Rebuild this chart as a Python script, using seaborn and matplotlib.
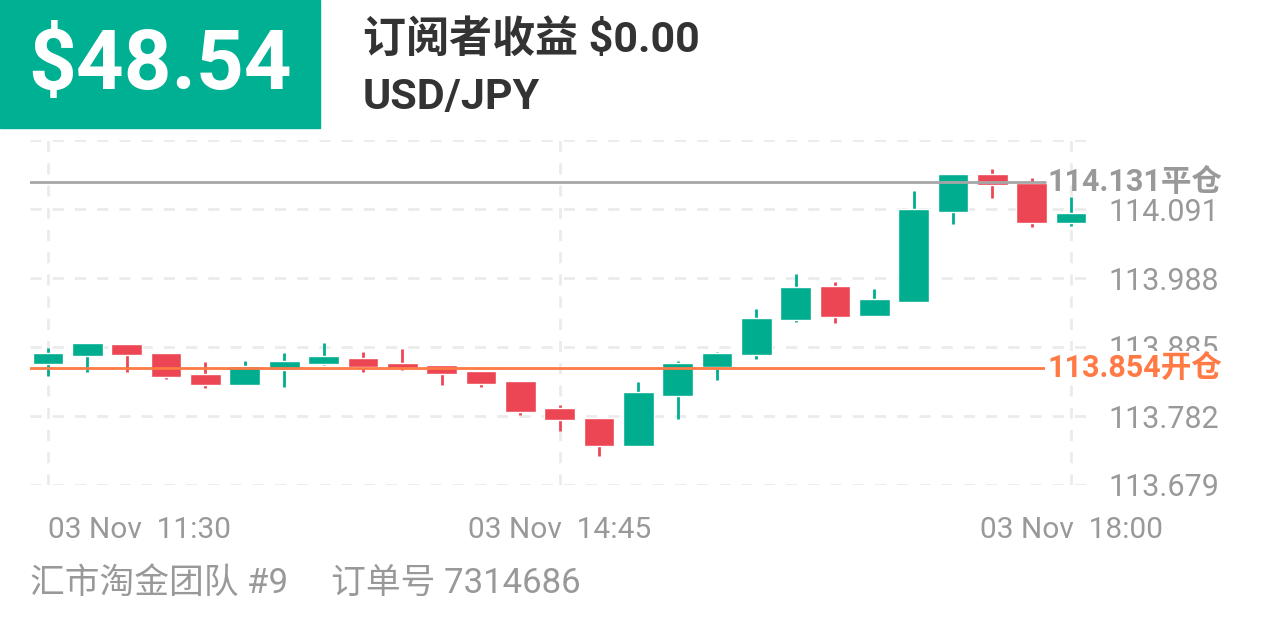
import numpy as np
import pandas as pd
import seaborn as sns
import matplotlib.pyplot as plt

# Data
opens = [113.860, 113.872, 113.890, 113.876, 113.845, 113.828, 113.851, 113.860, 113.869,
         113.861, 113.858, 113.849, 113.834, 113.794, 113.779, 113.737, 113.812, 113.855,
         113.873, 113.925, 113.976, 113.931, 113.952, 114.087, 114.143, 114.130, 114.070]
closes = [113.876, 113.891, 113.873, 113.840, 113.828, 113.857, 113.864, 113.872, 113.855,
          113.854, 113.845, 113.830, 113.788, 113.776, 113.737, 113.818, 113.861, 113.876,
          113.928, 113.975, 113.930, 113.957, 114.091, 114.143, 114.127, 114.070, 114.085]
highs = [113.884, 113.891, 113.890, 113.876, 113.863, 113.864, 113.876, 113.891, 113.878,
         113.882, 113.858, 113.849, 113.834, 113.798, 113.779, 113.833, 113.864, 113.878,
         113.942, 113.994, 113.982, 113.972, 114.118, 114.143, 114.151, 114.137, 114.109]
lows = [113.842, 113.848, 113.848, 113.837, 113.824, 113.828, 113.825, 113.858, 113.848,
        113.851, 113.828, 113.825, 113.784, 113.760, 113.722, 113.737, 113.778, 113.836,
        113.867, 113.922, 113.921, 113.931, 113.952, 114.069, 114.108, 114.064, 114.066]
yticks = [113.679, 113.782, 113.885, 113.988, 114.091]
xtick_pos = [0, 13, 26]
xtick_labels = ["03 Nov  11:30", "03 Nov  14:45", "03 Nov  18:00"]
open_price = 113.854
close_price = 114.131

df = pd.DataFrame({"i": np.arange(len(opens)), "open": opens, "close": closes,
                   "high": highs, "low": lows})
df["up"] = df["close"] >= df["open"]

sns.set_theme(style="white")
plt.rcParams['font.family'] = ['Roboto', 'Noto Sans CJK SC', 'DejaVu Sans']

GREEN = "#00ae8f"
RED = "#ec4654"
ORANGE = "#ff7a45"

fig = plt.figure(figsize=(12.66, 6.33), dpi=100)
ax = fig.add_axes([30 / 1266, 148 / 633, 1060 / 1266, 345 / 633])

colors = np.where(df["up"], GREEN, RED)
ax.vlines(df["i"], df["low"], df["high"], colors=colors, lw=2, zorder=3)
bottom = np.minimum(df["open"], df["close"])
height = np.abs(df["close"] - df["open"]).clip(lower=0.001)
ax.bar(df["i"], height, bottom=bottom, width=0.78, color=colors, zorder=4)

ax.set_xlim(-0.46, 26.48)
ax.set_ylim(113.679, 114.194)

for y in yticks + [114.194]:
    ax.axhline(y, color="#ebebeb", lw=2, ls=(0, (4, 4)), zorder=1)
for x in xtick_pos:
    ax.axvline(x, color="#ebebeb", lw=2, ls=(0, (4, 4)), zorder=1)

ax.axhline(close_price, xmax=(1045 - 30) / 1060, color="#a6a6a6", lw=2, zorder=5)
ax.axhline(open_price, xmax=(1045 - 30) / 1060, color=ORANGE, lw=2, zorder=5)

ax.yaxis.tick_right()
ax.set_yticks(yticks)
ax.set_yticklabels([f"{v:.3f}" for v in yticks], color="#999999", fontsize=22)
ax.tick_params(axis="y", length=0, pad=13)
ax.set_xticks(xtick_pos)
ax.set_xticklabels(xtick_labels, color="#999999", fontsize=21.5)
ax.tick_params(axis="x", length=0, pad=22)
xl = ax.get_xticklabels()
xl[0].set_horizontalalignment("left")
for s in ax.spines.values():
    s.set_visible(False)

lx = (1047 - 30) / 1060
ax.text(lx, close_price, "114.131平仓", transform=ax.get_yaxis_transform(),
        color="#999999", fontsize=22, fontweight="bold", va="center", ha="left", zorder=6)
ax.text(lx, open_price, "113.854开仓", transform=ax.get_yaxis_transform(),
        color=ORANGE, fontsize=22, fontweight="bold", va="center", ha="left", zorder=6,
        bbox=dict(facecolor="white", edgecolor="none", pad=1))

# header
fig.patches.append(plt.Rectangle((0, 1 - 128 / 633), 320 / 1266, 128 / 633,
                                 transform=fig.transFigure, color="#00b092", zorder=0))
fig.text(160 / 1266, 1 - 66 / 633, "$48.54", color="white", fontsize=60, fontweight="bold",
         ha="center", va="center")
fig.text(363 / 1266, 1 - 40 / 633, "订阅者收益 $0.00", color="#333333", fontsize=31,
         fontweight="bold", va="center")
fig.text(363 / 1266, 1 - 98 / 633, "USD/JPY", color="#333333", fontsize=31,
         fontweight="bold", va="center")
fig.text(30 / 1266, 1 - 583 / 633, "汇市淘金团队 #9     订单号 7314686", color="#999999",
         fontsize=25, va="center")

fig.savefig("out.png", dpi=100, facecolor="white")
